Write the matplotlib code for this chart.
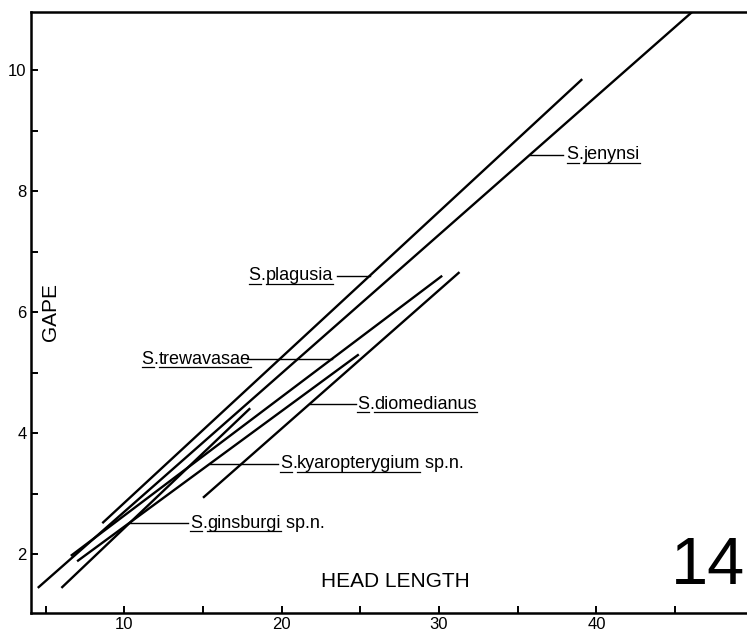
import numpy as np
import matplotlib
matplotlib.use("Agg")
import matplotlib.pyplot as plt
from matplotlib.lines import Line2D
from matplotlib.ticker import MultipleLocator

plt.rcParams['font.family'] = ['Liberation Sans', 'DejaVu Sans']

# regression lines, gape against head length (end points)
species = ["jenynsi", "plagusia", "trewavasae", "kyaropterygium", "ginsburgi", "diomedianus"]
suffix = ["", "", "", " sp.n.", " sp.n.", ""]
head_start = [4.5, 8.6, 6.6, 7.0, 6.0, 15.0]
head_end = [47.0, 39.1, 30.2, 24.9, 18.0, 31.3]
gape_start = [1.44, 2.51, 1.97, 1.88, 1.44, 2.93]
gape_end = [11.17, 9.85, 6.60, 5.30, 4.41, 6.66]

# label positions (left edge of text) and the free end of each pointer
label_x = [38.1, 17.9, 11.1, 19.9, 14.2, 24.8]
label_y = [8.60, 6.60, 5.22, 3.49, 2.51, 4.48]
pointer_free = [37.9, 23.5, 17.8, 19.75, 14.05, 24.7]

fig = plt.figure(figsize=(7.47, 6.31), dpi=100)
ax = fig.add_axes([0.0411, 0.0285, 0.9589, 0.9525])

for i in range(len(species)):
    ax.plot([head_start[i], head_end[i]], [gape_start[i], gape_end[i]],
            color='black', lw=1.7, solid_capstyle='butt')

ax.set_xlim(4.05, 49.57)
ax.set_ylim(1.025, 10.96)

ax.xaxis.set_major_locator(MultipleLocator(10))
ax.xaxis.set_minor_locator(MultipleLocator(5))
ax.yaxis.set_major_locator(MultipleLocator(2))
ax.yaxis.set_minor_locator(MultipleLocator(1))
ax.tick_params(which='both', direction='in', length=5, width=1.4, labelsize=12, pad=3)
ax.spines['right'].set_visible(False)
for s in ['left', 'bottom', 'top']:
    ax.spines[s].set_linewidth(1.8)

ax.text(5.3, 6.0, "GAPE", rotation=90, ha='center', va='center', fontsize=15)
ax.text(27.2, 1.54, "HEAD LENGTH", ha='center', va='center', fontsize=15)
ax.text(47.1, 1.78, "14", ha='center', va='center', fontsize=48)

underlined = []
fs = 13
for i in range(len(species)):
    xa = np.interp(label_y[i], [gape_start[i], gape_end[i]], [head_start[i], head_end[i]])
    ax.plot([xa, pointer_free[i]], [label_y[i], label_y[i]], color='black', lw=1.0)
    t1 = ax.text(label_x[i], label_y[i], "S", fontsize=fs, va='center')
    t2 = ax.annotate(".", xy=(1, 0), xycoords=t1, va='bottom', fontsize=fs)
    t3 = ax.annotate(species[i], xy=(1, 0), xycoords=t2, va='bottom', fontsize=fs)
    underlined += [t1, t3]
    if suffix[i]:
        ax.annotate(suffix[i], xy=(1, 0), xycoords=t3, va='bottom', fontsize=fs)

fig.canvas.draw()
renderer = fig.canvas.get_renderer()
inv = fig.transFigure.inverted()
for t in underlined:
    bb = t.get_window_extent(renderer)
    (x0, y0), (x1, _) = inv.transform([[bb.x0, bb.y0 + 0.5], [bb.x1, bb.y0]])
    fig.add_artist(Line2D([x0, x1], [y0, y0], color='black', lw=0.9))

fig.savefig("out.png", dpi=100)
